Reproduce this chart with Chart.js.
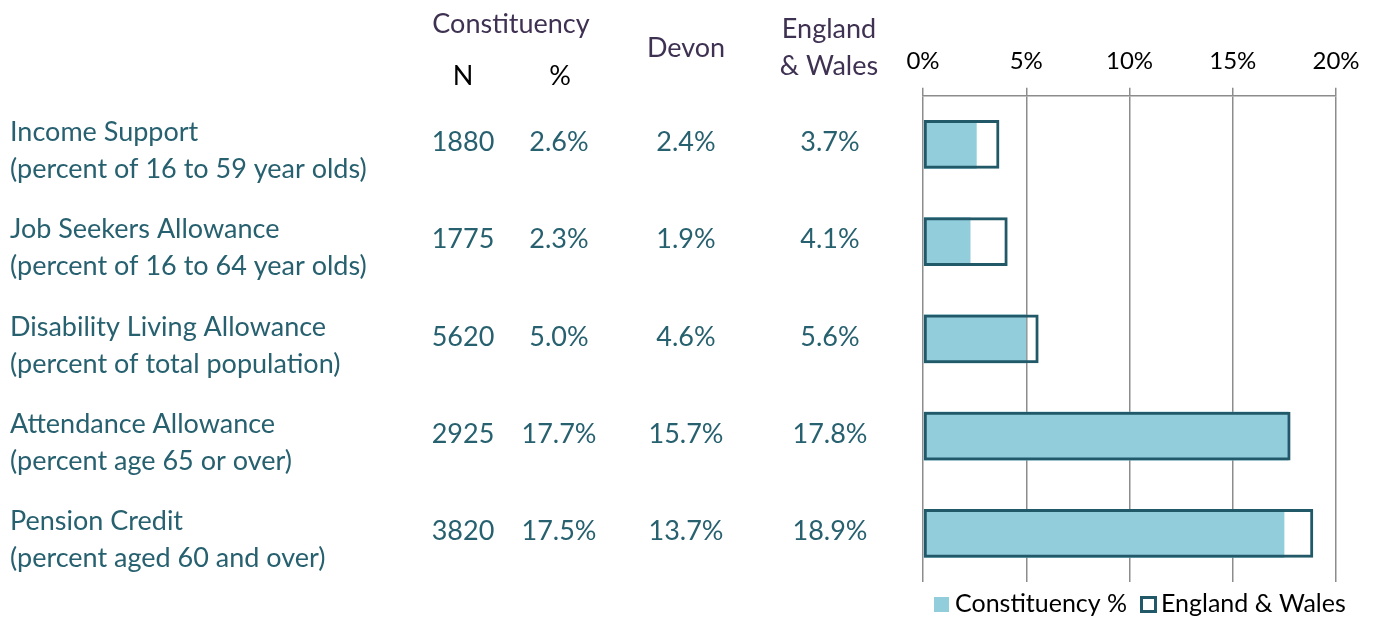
<!DOCTYPE html>
<html>
<head>
<meta charset="utf-8">
<script src="https://cdn.jsdelivr.net/npm/chart.js@4.4.1/dist/chart.umd.min.js"></script>
<style>
  html, body { margin: 0; padding: 0; background: #fff; }
  #wrap { width: 1377px; height: 618px; position: relative; }
</style>
</head>
<body>
<div id="wrap"><canvas id="chart"></canvas></div>
<script>
// categories (two text lines each)
const categories = [
    ["Income Support", "(percent of 16 to 59 year olds)"],
    ["Job Seekers Allowance", "(percent of 16 to 64 year olds)"],
    ["Disability Living Allowance", "(percent of total population)"],
    ["Attendance Allowance", "(percent age 65 or over)"],
    ["Pension Credit", "(percent aged 60 and over)"]
];
const constituencyN = [1880, 1775, 5620, 2925, 3820];
const constituencyPct = [2.6, 2.3, 5.0, 17.7, 17.5];
const devonPct = [2.4, 1.9, 4.6, 15.7, 13.7];
const englandWalesPct = [3.7, 4.1, 5.6, 17.8, 18.9];
const xTicks = [0, 5, 10, 15, 20];
const seriesNames = ["Constituency %", "England & Wales"];

const FONT = 'Lato, "Open Sans", sans-serif';
const TEAL = '#27606f';
const HEAD = '#3f3151';
const LIGHT = '#92cddc';
const DARK = '#215968';

// draws the table on the left (aligned with the bar rows) and the legend
const tablePlugin = {
    id: 'tablePlugin',
    afterDraw(chart) {
        const ctx = chart.ctx;
        const y = chart.scales.y;
        ctx.save();
        ctx.textBaseline = 'middle';

        // headers
        ctx.font = '27px ' + FONT;
        ctx.fillStyle = HEAD;
        ctx.textAlign = 'center';
        ctx.fillText('Constituency', 511, 24);
        ctx.fillText('Devon', 686, 48);
        ctx.fillText('England', 829, 29);
        ctx.fillText('& Wales', 829, 66);
        ctx.fillStyle = '#000';
        ctx.fillText('N', 463, 76);
        ctx.fillText('%', 560, 76);

        categories.forEach((lines, i) => {
            const cy = y.getPixelForValue(i);
            ctx.fillStyle = TEAL;
            ctx.textAlign = 'left';
            ctx.fillText(lines[0], 10, cy - 12);
            ctx.fillText(lines[1], 10, cy + 25);
            ctx.textAlign = 'center';
            ctx.fillText(String(constituencyN[i]), 463, cy - 2);
            ctx.fillText(constituencyPct[i].toFixed(1) + '%', 559, cy - 2);
            ctx.fillText(devonPct[i].toFixed(1) + '%', 686, cy - 2);
            ctx.fillText(englandWalesPct[i].toFixed(1) + '%', 830, cy - 2);
        });

        // legend
        ctx.font = '25px ' + FONT;
        ctx.textAlign = 'left';
        ctx.fillStyle = LIGHT;
        ctx.fillRect(934, 597, 15, 15);
        ctx.fillStyle = '#000';
        ctx.fillText(seriesNames[0], 955, 604);
        ctx.fillStyle = '#fff';
        ctx.fillRect(1141, 597, 15, 15);
        ctx.strokeStyle = DARK;
        ctx.lineWidth = 3;
        ctx.strokeRect(1141.5, 597.5, 14, 14);
        ctx.fillStyle = '#000';
        ctx.fillText(seriesNames[1], 1161, 604);
        ctx.restore();
    }
};

const ctx = document.getElementById('chart').getContext('2d');
new Chart(ctx, {
    type: 'bar',
    data: {
        labels: categories.map(c => c[0]),
        datasets: [
            {
                label: seriesNames[0],
                data: constituencyPct,
                backgroundColor: LIGHT,
                borderWidth: 0,
                grouped: false,
                order: 2
            },
            {
                label: seriesNames[1],
                data: englandWalesPct,
                backgroundColor: 'rgba(255,255,255,0)',
                borderColor: DARK,
                borderWidth: 3,
                borderSkipped: false,
                grouped: false,
                order: 1
            }
        ]
    },
    options: {
        indexAxis: 'y',
        responsive: true,
        maintainAspectRatio: false,
        animation: false,
        datasets: { bar: { categoryPercentage: 1, barPercentage: 0.5 } },
        layout: { padding: { left: 923, right: 41, top: 35, bottom: 36 } },
        plugins: {
            tooltip: { enabled: false },
            legend: { display: false }
        },
        scales: {
            x: {
                position: 'top',
                min: 0,
                max: 20,
                afterBuildTicks: axis => { axis.ticks = xTicks.map(v => ({ value: v })); },
                ticks: {
                    callback: v => v + '%',
                    color: '#000',
                    font: { family: FONT, size: 24 },
                    padding: 12
                },
                grid: { color: '#8c8c8c', lineWidth: 1.5, tickLength: 8 },
                border: { color: '#8c8c8c', width: 1.5 }
            },
            y: {
                display: false
            }
        }
    },
    plugins: [tablePlugin]
});
</script>
</body>
</html>
